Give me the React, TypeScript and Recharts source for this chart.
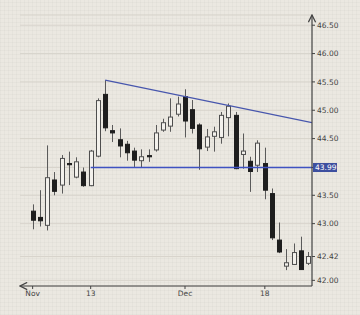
import React from 'react';
import { ComposedChart, Bar, Line, XAxis, YAxis, CartesianGrid } from 'recharts';

const dates = ['11-01','11-02','11-03','11-06','11-07','11-08','11-09','11-10','11-13','11-14','11-15','11-16','11-17','11-20','11-21','11-22','11-24','11-27','11-28','11-29','11-30','12-01','12-04','12-05','12-06','12-07','12-08','12-11','12-12','12-13','12-14','12-15','12-18','12-19','12-20','12-21','12-22','12-26','12-27'];
const opens = [43.22,43.11,42.97,43.77,43.68,44.06,43.82,43.91,43.67,44.19,45.28,44.64,44.48,44.40,44.28,44.11,44.20,44.30,44.65,44.72,44.93,45.24,45.01,44.74,44.35,44.54,44.52,44.87,44.91,44.22,44.10,44.03,44.06,43.53,42.71,42.25,42.28,42.52,42.30];
const highs = [43.34,43.59,44.38,43.91,44.21,44.27,44.17,43.99,44.30,45.21,45.53,44.74,44.68,44.46,44.34,44.31,44.31,44.74,44.85,45.21,45.24,45.37,45.18,44.77,44.67,44.71,44.97,45.12,44.97,44.59,44.18,44.47,44.34,43.62,43.02,42.55,42.65,42.77,42.50];
const lows = [42.90,42.95,42.88,43.50,43.53,43.68,43.80,43.65,43.66,44.17,44.63,44.44,44.17,44.11,44.00,43.99,44.09,44.27,44.62,44.62,44.89,44.52,44.59,43.95,44.28,44.27,44.41,44.54,43.96,43.97,43.56,43.91,43.43,42.71,42.48,42.18,42.27,42.19,42.27];
const closes = [43.06,43.05,43.81,43.57,44.15,44.04,44.09,43.67,44.28,45.17,44.69,44.60,44.37,44.25,44.12,44.18,44.19,44.60,44.78,44.88,45.11,44.81,44.68,44.32,44.53,44.62,44.91,45.07,43.97,44.28,43.92,44.42,43.59,42.75,42.50,42.31,42.49,42.19,42.42];

const xTickDates = ['11-01', '11-13', '12-01', '12-18'];
const xTickLabels = ['Nov', '13', 'Dec', '18'];
const yTicks = [42.0, 42.42, 43.0, 43.5, 43.99, 44.5, 45.0, 45.5, 46.0, 46.5];
const highlightTick = 43.99;

const trendLine = [{ i: 10, v: 45.53 }, { i: 38.5, v: 44.78 }];
const supportLine = [{ i: 8, v: 43.99 }, { i: 38.5, v: 43.99 }];

const data = dates.map((d, i) => ({
  i,
  date: d,
  open: opens[i],
  high: highs[i],
  low: lows[i],
  close: closes[i],
  range: [lows[i], highs[i]],
}));

const FONT = '"DejaVu Sans", sans-serif';
const BLUE = '#4756ad';

const Candle = (props: any) => {
  const { x, y, width, height, payload } = props;
  if (!payload) return null;
  const { open, close, high, low } = payload;
  const top = Math.min(y, y + height);
  const h = Math.abs(height);
  const ppu = h / (high - low);
  const yOf = (v: number) => top + (high - v) * ppu;
  const up = close > open;
  const cx = Math.round(x + width / 2) + 0.5;
  const bTop = yOf(Math.max(open, close));
  const bBot = yOf(Math.min(open, close));
  return (
    <g>
      <line x1={cx} x2={cx} y1={top} y2={top + h} stroke="#5a5a5a" strokeWidth={1} />
      <rect
        x={cx - 2}
        y={bTop}
        width={4}
        height={Math.max(bBot - bTop, 1.2)}
        fill={up ? '#f3f1ec' : '#1e1e1e'}
        stroke={up ? '#4e4e4e' : '#1e1e1e'}
        strokeWidth={1}
      />
    </g>
  );
};

const YTick = (props: any) => {
  const { x, y, payload } = props;
  const v = payload.value;
  const lineX = x - 5;
  if (Math.abs(v - highlightTick) < 0.001) {
    return (
      <g>
        <rect x={lineX + 1} y={y - 4.5} width={24} height={9} fill="#3d4f9f" />
        <text x={lineX + 3} y={y} dy="0.35em" fontSize={7.5} fontFamily={FONT} fill="#ffffff">
          {v.toFixed(2)}
        </text>
      </g>
    );
  }
  return (
    <text x={x} y={y} dy="0.35em" fontSize={7.5} fontFamily={FONT} fill="#444">
      {v.toFixed(2)}
    </text>
  );
};

const xFmt = (d: string) => {
  const k = xTickDates.indexOf(d);
  return k >= 0 ? xTickLabels[k] : '';
};

export default function App() {
  return (
    <div
      style={{
        position: 'fixed',
        left: 0,
        top: 0,
        width: 360,
        height: 315,
        backgroundColor: '#ebe8e1',
        backgroundImage:
          'repeating-linear-gradient(0deg, rgba(0,0,0,0.025) 0px, rgba(0,0,0,0.025) 1px, transparent 1px, transparent 4px), repeating-linear-gradient(90deg, rgba(0,0,0,0.025) 0px, rgba(0,0,0,0.025) 1px, transparent 1px, transparent 4px)',
      }}
    >
      <ComposedChart
        width={360}
        height={315}
        data={data}
        margin={{ top: 15, right: 0, bottom: 5, left: 20 }}
      >
        <defs>
          <marker id="axArrow" viewBox="0 0 10 10" refX="9" refY="5" markerWidth="9" markerHeight="9" markerUnits="userSpaceOnUse" orient="auto-start-reverse">
            <path d="M1,1 L9,5 L1,9" fill="none" stroke="#444" strokeWidth={1.4} />
          </marker>
        </defs>
        <CartesianGrid vertical={false} stroke="#d8d4cc" strokeWidth={1} />
        <XAxis
          dataKey="date"
          type="category"
          ticks={xTickDates}
          interval={0}
          tickFormatter={xFmt}
          padding={{ left: 9, right: 0 }}
          height={24}
          tickSize={3}
          tickMargin={2}
          tick={{ fontSize: 7.5, fontFamily: FONT, fill: '#444' }}
          tickLine={{ stroke: '#444' }}
          axisLine={{ stroke: '#444', strokeWidth: 1.2, markerStart: 'url(#axArrow)' }}
        />
        <XAxis
          xAxisId="t"
          dataKey="i"
          type="number"
          domain={[-0.5, 38.5]}
          allowDataOverflow
          padding={{ left: 9, right: 0 }}
          hide
        />
        <YAxis
          orientation="right"
          type="number"
          domain={[41.9, 46.68]}
          allowDataOverflow
          ticks={yTicks}
          interval={0}
          width={48}
          tickSize={3}
          tickMargin={2}
          tick={<YTick />}
          tickLine={{ stroke: '#444' }}
          axisLine={{ stroke: '#444', strokeWidth: 1.2, markerStart: 'url(#axArrow)' }}
        />
        <Bar dataKey="range" barSize={5} shape={<Candle />} isAnimationActive={false} />
        <Line
          xAxisId="t"
          data={trendLine}
          dataKey="v"
          stroke={BLUE}
          strokeWidth={1.2}
          dot={false}
          activeDot={false}
          isAnimationActive={false}
        />
        <Line
          xAxisId="t"
          data={supportLine}
          dataKey="v"
          stroke="#3f52c2"
          strokeWidth={1.5}
          dot={false}
          activeDot={false}
          isAnimationActive={false}
        />
      </ComposedChart>
    </div>
  );
}
